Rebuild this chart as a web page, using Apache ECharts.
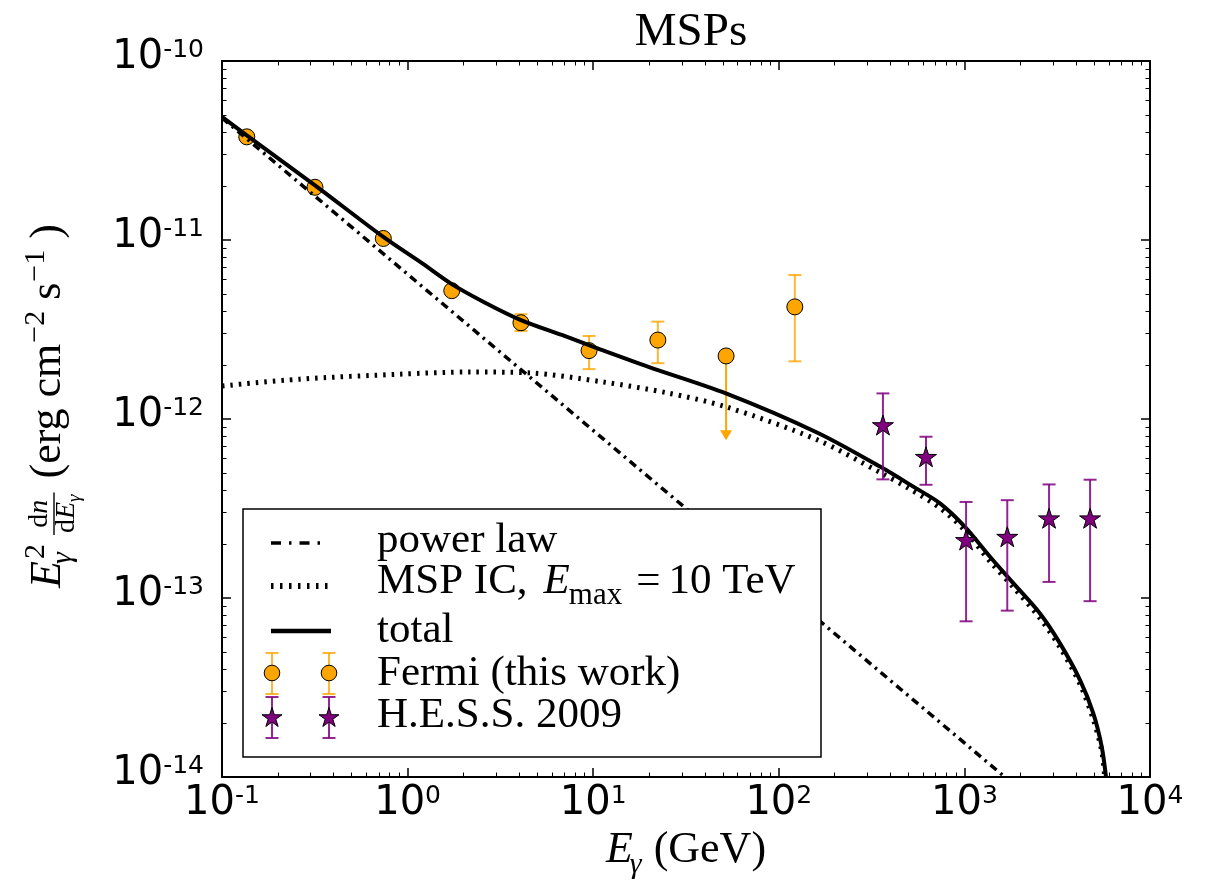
<!DOCTYPE html>
<html>
<head>
<meta charset="utf-8">
<title>MSPs</title>
<script src="https://cdn.jsdelivr.net/npm/echarts@6.0.0/dist/echarts.min.js"></script>
<style>
html,body{margin:0;padding:0;background:#ffffff;}
#chart{width:1209px;height:887px;}
</style>
</head>
<body>
<div id="chart"></div>
<script>
// ---------------- data ----------------
const xTickValues = [0.1, 1, 10, 100, 1000, 10000];
const yTickValues = [1e-14, 1e-13, 1e-12, 1e-11, 1e-10];

// power law (dash-dot)
const powerLawE = [0.1, 1, 10, 100, 1000, 1652];
const powerLawF = [4.81e-11, 6.44e-12, 8.63e-13, 1.16e-13, 1.55e-14, 1.0e-14];

// MSP IC, Emax = 10 TeV (dotted)
const mspIcE = [0.1, 0.263, 0.91, 2.17, 4.55, 11.3, 25, 51.9, 161.6, 351, 501, 739, 1000, 1374, 1834, 2554, 3274, 4198, 4949, 5493, 5700];
const mspIcF = [1.53e-12, 1.67e-12, 1.78e-12, 1.83e-12, 1.81e-12, 1.61e-12, 1.40e-12, 1.17e-12, 7.64e-13, 5.03e-13, 4.1e-13, 3.18e-13, 2.40e-13, 1.6e-13, 1.15e-13, 7.7e-14, 5.3e-14, 3.3e-14, 2.1e-14, 1.4e-14, 1.0e-14];

// total (solid)
const totalE = [0.1, 0.136, 0.317, 0.74, 1.2, 1.73, 2.6, 4.08, 7.0, 10.9, 20, 51.9, 161.6, 351, 530, 739, 1007, 1374, 1834, 2554, 3274, 4198, 4949, 5493, 5794];
const totalF = [4.87e-11, 3.84e-11, 2.02e-11, 1.04e-11, 7.40e-12, 5.67e-12, 4.48e-12, 3.57e-12, 2.91e-12, 2.45e-12, 1.95e-12, 1.39e-12, 8.38e-13, 5.42e-13, 4.19e-13, 3.38e-13, 2.50e-13, 1.70e-13, 1.21e-13, 8.2e-14, 5.58e-14, 3.48e-14, 2.27e-14, 1.48e-14, 1.0e-14];

// Fermi (this work)
const fermiE  = [0.136, 0.317, 0.740, 1.73, 4.08, 9.5, 22.3, 122];
const fermiF  = [3.77e-11, 1.97e-11, 1.02e-11, 5.21e-12, 3.45e-12, 2.41e-12, 2.76e-12, 4.23e-12];
const fermiLo = [3.62e-11, 1.89e-11, 9.8e-12, 4.95e-12, 3.10e-12, 1.90e-12, 2.05e-12, 2.10e-12];
const fermiHi = [3.92e-11, 2.05e-11, 1.06e-11, 5.45e-12, 3.85e-12, 2.91e-12, 3.50e-12, 6.37e-12];
// Fermi upper limit
const fermiUlE = [52];
const fermiUlF = [2.25e-12];
const fermiUlEnd = [7.6e-13];

// H.E.S.S. 2009
const hessE  = [364, 621, 1021, 1702, 2858, 4755];
const hessF  = [9.25e-13, 6.15e-13, 2.11e-13, 2.20e-13, 2.79e-13, 2.79e-13];
const hessLo = [4.6e-13, 4.29e-13, 7.41e-14, 8.5e-14, 1.23e-13, 9.6e-14];
const hessHi = [1.39e-12, 7.96e-13, 3.44e-13, 3.52e-13, 4.31e-13, 4.58e-13];

// minor tick positions (2..9 within each decade)
const xMinorTicks = [];
for (let d = -1; d <= 3; d++) for (let m = 2; m <= 9; m++) xMinorTicks.push(+(m * Math.pow(10, d)).toPrecision(6));
const yMinorTicks = [];
for (let d = -14; d <= -11; d++) for (let m = 2; m <= 9; m++) yMinorTicks.push(+(m * Math.pow(10, d)).toPrecision(6));

// ---------------- helpers ----------------
const SERIF = '"Liberation Serif", "Times New Roman", serif';
const SANS = '"DejaVu Sans", sans-serif';
const ORANGE = '#FFA500';
const ORANGE_BAR = 'rgba(255,165,0,0.8)';
const PURPLE = '#800080';
const PURPLE_BAR = 'rgba(128,0,128,0.85)';
const STAR = 'path://M0,-10L2.245,-3.09L9.511,-3.09L3.633,1.18L5.878,8.09L0,3.82L-5.878,8.09L-3.633,1.18L-9.511,-3.09L-2.245,-3.09Z';

const zip2 = (a, b) => a.map((v, i) => [v, b[i]]);
const zip3 = (a, b, c) => a.map((v, i) => [v, b[i], c[i]]);

const mctx = document.createElement('canvas').getContext('2d');
function tw(t, size, italic) {
  mctx.font = (italic ? 'italic ' : '') + size + 'px ' + SERIF;
  return mctx.measureText(t).width;
}
const MID = 0.3375;
function txt(t, x, base, size, italic) {
  return {
    type: 'text', z: 100, silent: true,
    style: {
      text: t, x: x, y: base - MID * size,
      fontSize: size, fontFamily: SERIF, fontStyle: italic ? 'italic' : 'normal',
      fill: '#000', align: 'left', verticalAlign: 'middle'
    }
  };
}
function starPoints(cx, cy, R) {
  const pts = [];
  const r = R * 0.382;
  for (let k = 0; k < 10; k++) {
    const a = -Math.PI / 2 + k * Math.PI / 5;
    const rr = k % 2 === 0 ? R : r;
    pts.push([cx + rr * Math.cos(a), cy + rr * Math.sin(a)]);
  }
  return pts;
}
function errorBarRender(color, cap) {
  return function (params, api) {
    const x = api.value(0), lo = api.value(1), hi = api.value(2);
    const a = api.coord([x, lo]);
    const b = api.coord([x, hi]);
    const st = { stroke: color, lineWidth: 2 };
    return {
      type: 'group',
      children: [
        { type: 'line', shape: { x1: a[0], y1: a[1], x2: b[0], y2: b[1] }, style: st },
        { type: 'line', shape: { x1: a[0] - cap, y1: a[1], x2: a[0] + cap, y2: a[1] }, style: st },
        { type: 'line', shape: { x1: b[0] - cap, y1: b[1], x2: b[0] + cap, y2: b[1] }, style: st }
      ]
    };
  };
}
function upperLimitRender(params, api) {
  const x = api.value(0), f = api.value(1), end = api.value(2);
  const a = api.coord([x, f]);
  const b = api.coord([x, end]);
  return {
    type: 'group',
    children: [
      { type: 'line', shape: { x1: a[0], y1: a[1], x2: b[0], y2: b[1] - 9 }, style: { stroke: ORANGE, lineWidth: 2 } },
      { type: 'polygon', shape: { points: [[b[0] - 6, b[1] - 10], [b[0] + 6, b[1] - 10], [b[0], b[1]]] }, style: { fill: ORANGE } }
    ]
  };
}

// ---------------- axis titles & legend (graphic text) ----------------
function buildYLabel() {
  const M = 44, S = 30, F = 28, FS = 19;
  const items = [];
  const wE = tw('E', M, true);
  items.push(['E', 0, 0, M, true]);
  items.push(['2', wE + 2, -17, S, false]);
  items.push(['γ', wE - 3, 10, S, true]);
  let x = wE + Math.max(tw('2', S) + 2, tw('γ', S, true) - 3) + 9;
  const nw = tw('d', F) + tw('n', F, true);
  const dw = tw('d', F) + tw('E', F, true) + tw('γ', FS, true);
  const barW = Math.max(nw, dw) + 4;
  const nx = x + (barW - nw) / 2;
  items.push(['d', nx, -14, F, false]);
  items.push(['n', nx + tw('d', F), -14, F, true]);
  const dx = x + (barW - dw) / 2;
  items.push(['d', dx, 13, F, false]);
  items.push(['E', dx + tw('d', F), 13, F, true]);
  items.push(['γ', dx + tw('d', F) + tw('E', F, true), 18, FS, true]);
  const bar = [x, x + barW];
  x += barW + 14;
  items.push(['(erg cm', x, 0, M, false]); x += tw('(erg cm', M);
  items.push(['−2', x + 1, -17, S, false]); x += tw('−2', S) + 1;
  items.push([' s', x, 0, M, false]); x += tw(' s', M);
  items.push(['−1', x + 1, -17, S, false]); x += tw('−1', S) + 1;
  items.push([' )', x, 0, M, false]); x += tw(' )', M);
  const off = -x / 2;
  const children = items.map(it => txt(it[0], it[1] + off, it[2], it[3], it[4]));
  children.push({ type: 'line', z: 100, silent: true, shape: { x1: bar[0] + off, y1: -9, x2: bar[1] + off, y2: -9 }, style: { stroke: '#000', lineWidth: 1.4 } });
  return { type: 'group', x: 63, y: 406, rotation: Math.PI / 2, children: children };
}
function buildXLabel() {
  const M = 44, S = 30;
  const wE = tw('E', M, true), wg = tw('γ', S, true), wr = tw(' (GeV)', M);
  const total = wE + wg - 2 + wr;
  const x0 = 686 - total / 2, base = 865;
  return [
    txt('E', x0, base, M, true),
    txt('γ', x0 + wE - 3, base + 10, S, true),
    txt(' (GeV)', x0 + wE - 3 + wg + 1, base, M, false)
  ];
}
function buildLegend() {
  const els = [];
  const L = { x: 243, y: 509, w: 578, h: 248 };
  els.push({ type: 'rect', z: 90, silent: true, shape: { x: L.x, y: L.y, width: L.w, height: L.h }, style: { fill: '#fff', stroke: '#000', lineWidth: 1.5 } });
  const LX1 = 271, LX2 = 331, TX = 377, FS = 43;
  const lineY = [543, 586, 631, 673, 717];
  const baseY = [555, 596, 645, 688, 730];
  els.push({ type: 'line', z: 100, silent: true, shape: { x1: LX1, y1: lineY[0], x2: LX2 - 8, y2: lineY[0] }, style: { stroke: '#000', lineWidth: 3.5, lineDash: [10, 8, 2.5, 8] } });
  els.push({ type: 'line', z: 100, silent: true, shape: { x1: LX1, y1: lineY[1], x2: LX2, y2: lineY[1] }, style: { stroke: '#000', lineWidth: 6, lineDash: [2.5, 6.5] } });
  els.push({ type: 'line', z: 100, silent: true, shape: { x1: LX1, y1: lineY[2], x2: LX2, y2: lineY[2] }, style: { stroke: '#000', lineWidth: 4.5 } });
  [272, 329].forEach(cx => {
    const y = lineY[3];
    const sb = { stroke: ORANGE_BAR, lineWidth: 2 };
    els.push({ type: 'line', z: 100, silent: true, shape: { x1: cx, y1: y - 20, x2: cx, y2: y + 21 }, style: sb });
    els.push({ type: 'line', z: 100, silent: true, shape: { x1: cx - 6.5, y1: y - 20, x2: cx + 6.5, y2: y - 20 }, style: sb });
    els.push({ type: 'line', z: 100, silent: true, shape: { x1: cx - 6.5, y1: y + 21, x2: cx + 6.5, y2: y + 21 }, style: sb });
    els.push({ type: 'circle', z: 101, silent: true, shape: { cx: cx, cy: y, r: 7.8 }, style: { fill: ORANGE, stroke: '#000', lineWidth: 1 } });
    const y2 = lineY[4];
    const sp = { stroke: PURPLE_BAR, lineWidth: 2 };
    els.push({ type: 'line', z: 100, silent: true, shape: { x1: cx, y1: y2 - 20, x2: cx, y2: y2 + 21 }, style: sp });
    els.push({ type: 'line', z: 100, silent: true, shape: { x1: cx - 6.5, y1: y2 - 20, x2: cx + 6.5, y2: y2 - 20 }, style: sp });
    els.push({ type: 'line', z: 100, silent: true, shape: { x1: cx - 6.5, y1: y2 + 21, x2: cx + 6.5, y2: y2 + 21 }, style: sp });
    els.push({ type: 'polygon', z: 101, silent: true, shape: { points: starPoints(cx, y2 + 1, 10.5) }, style: { fill: PURPLE, stroke: '#000', lineWidth: 1 } });
  });
  els.push(txt('power law', TX, baseY[0], FS, false));
  // MSP IC, E_max =10 TeV
  let x = TX;
  els.push(txt('MSP IC,', x, baseY[1], FS, false)); x += tw('MSP IC,', FS) + 16;
  els.push(txt('E', x, baseY[1], FS, true)); x += tw('E', FS, true) - 1;
  els.push(txt('max', x, baseY[1] + 10, 31, false)); x += tw('max', 31) + 14;
  els.push(txt('=', x, baseY[1], FS, false)); x += tw('=', FS) + 8;
  els.push(txt('10 TeV', x, baseY[1], FS, false));
  els.push(txt('total', TX, baseY[2], FS, false));
  els.push(txt('Fermi (this work)', TX, baseY[3], FS, false));
  els.push(txt('H.E.S.S. 2009', TX, baseY[4], FS, false));
  return els;
}

// ---------------- axes ----------------
const tickLabelRich = {
  b: { fontSize: 40, lineHeight: 46, fontFamily: SANS, color: '#000', verticalAlign: 'top' },
  s: { fontSize: 25, lineHeight: 12, fontFamily: SANS, color: '#000', verticalAlign: 'top' }
};
function powFmt(v) {
  const e = Math.round(Math.log10(v));
  return '{b|10}{s|' + (e < 0 ? '-' + (-e) : e) + '}';
}
const AX = { lineStyle: { color: '#000', width: 2 } };
function xAxisDef(pos, major, showLine, showLabel) {
  return {
    type: 'log', logBase: 10, min: 0.1, max: 10000, position: pos, gridIndex: 0,
    axisLine: { show: showLine, onZero: false, lineStyle: AX.lineStyle },
    axisTick: { show: true, inside: true, length: major ? 9 : 4.5, lineStyle: { color: '#000', width: major ? 1.5 : 1 },
      customValues: major ? xTickValues : xMinorTicks },
    axisLabel: { show: showLabel, margin: 7, formatter: powFmt, rich: tickLabelRich, customValues: xTickValues },
    splitLine: { show: false }, minorTick: { show: false }
  };
}
function yAxisDef(pos, major, showLine, showLabel) {
  return {
    type: 'log', logBase: 10, min: 1e-14, max: 1e-10, position: pos, gridIndex: 0,
    axisLine: { show: showLine, onZero: false, lineStyle: AX.lineStyle },
    axisTick: { show: true, inside: true, length: major ? 9 : 4.5, lineStyle: { color: '#000', width: major ? 1.5 : 1 },
      customValues: major ? yTickValues : yMinorTicks },
    axisLabel: { show: showLabel, margin: 18, formatter: powFmt, rich: tickLabelRich, customValues: yTickValues },
    splitLine: { show: false }, minorTick: { show: false }
  };
}

const chart = echarts.init(document.getElementById('chart'), null, { renderer: 'canvas' });
chart.setOption({
  animation: false,
  backgroundColor: '#ffffff',
  title: {
    text: 'MSPs', left: 686, top: 4, textAlign: 'center',
    textStyle: { fontFamily: SERIF, fontSize: 47, fontWeight: 'normal', color: '#000' }
  },
  grid: { left: 222, right: 59, top: 61, bottom: 110, containLabel: false },
  xAxis: [
    xAxisDef('bottom', true, true, true),
    xAxisDef('bottom', false, false, false),
    xAxisDef('top', true, true, false),
    xAxisDef('top', false, false, false)
  ],
  yAxis: [
    yAxisDef('left', true, true, true),
    yAxisDef('left', false, false, false),
    yAxisDef('right', true, true, false),
    yAxisDef('right', false, false, false)
  ],
  graphic: { elements: [buildYLabel()].concat(buildXLabel(), buildLegend()) },
  series: [
    { name: 'Fermi errors', type: 'custom', z: 1, renderItem: errorBarRender(ORANGE_BAR, 6.5),
      data: zip3(fermiE, fermiLo, fermiHi), encode: { x: 0, y: [1, 2] }, silent: true },
    { name: 'Fermi upper limit', type: 'custom', z: 1, renderItem: upperLimitRender,
      data: zip3(fermiUlE, fermiUlF, fermiUlEnd), encode: { x: 0, y: [1, 2] }, silent: true },
    { name: 'Fermi (this work)', type: 'scatter', z: 1, symbol: 'circle', symbolSize: 16,
      itemStyle: { color: ORANGE, borderColor: '#000', borderWidth: 1, opacity: 1 },
      data: zip2(fermiE.concat(fermiUlE), fermiF.concat(fermiUlF)) },
    { name: 'power law', type: 'line', z: 2, showSymbol: false, symbol: 'none', smooth: false,
      lineStyle: { color: '#000', width: 3.5, type: [8, 5, 2.5, 5] }, data: zip2(powerLawE, powerLawF) },
    { name: 'MSP IC', type: 'line', z: 2, showSymbol: false, symbol: 'none', smooth: 0.3,
      lineStyle: { color: '#000', width: 5, type: [2.5, 6] }, data: zip2(mspIcE, mspIcF) },
    { name: 'total', type: 'line', z: 2, showSymbol: false, symbol: 'none', smooth: 0.3,
      lineStyle: { color: '#000', width: 4 }, data: zip2(totalE, totalF) },
    { name: 'H.E.S.S. errors', type: 'custom', z: 3, renderItem: errorBarRender(PURPLE_BAR, 6.5),
      data: zip3(hessE, hessLo, hessHi), encode: { x: 0, y: [1, 2] }, silent: true },
    { name: 'H.E.S.S. 2009', type: 'scatter', z: 3, symbol: STAR, symbolSize: 21, symbolKeepAspect: true,
      itemStyle: { color: PURPLE, borderColor: '#000', borderWidth: 1, opacity: 1 },
      data: zip2(hessE, hessF) }
  ]
});
</script>
</body>
</html>
